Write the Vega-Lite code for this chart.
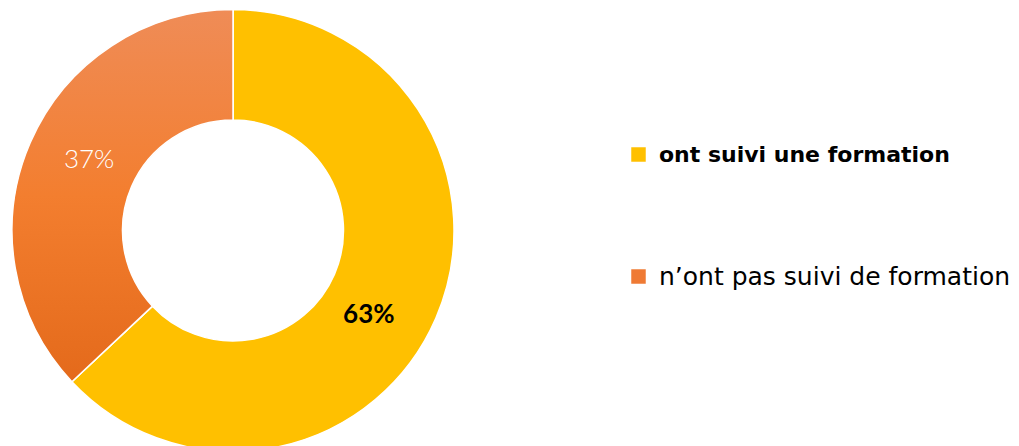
{
  "$schema": "https://vega.github.io/schema/vega-lite/v6.json",
  "width": 1019,
  "height": 446,
  "autosize": {"type": "fit", "contains": "padding"},
  "padding": 0,
  "background": "white",
  "view": {"stroke": null},
  "data": {
    "values": [
      {"category": "ont suivi une formation", "value": 63, "label": "63%", "order": 1},
      {"category": "n’ont pas suivi de formation", "value": 37, "label": "37%", "order": 2}
    ]
  },
  "encoding": {
    "theta": {"field": "value", "type": "quantitative", "stack": true},
    "order": {"field": "order", "type": "quantitative"}
  },
  "layer": [
    {
      "mark": {"type": "arc", "x": 233, "y": 230.5, "radius": 221, "radius2": 110.5, "stroke": "white", "strokeWidth": 1.5},
      "encoding": {
        "color": {
          "field": "category",
          "type": "nominal",
          "scale": {"domain": ["ont suivi une formation", "n’ont pas suivi de formation"], "range": ["#FFC000", "#EF7A34"]},
          "legend": {
            "title": null,
            "orient": "none",
            "legendX": 626,
            "legendY": 142,
            "padding": 0,
            "symbolType": "square",
            "symbolSize": 210,
            "symbolStrokeWidth": 0,
            "symbolOpacity": 1,
            "labelFont": "DejaVu Sans",
            "labelFontSize": {"expr": "datum.label == 'ont suivi une formation' ? 22 : 25"},
            "labelFontWeight": {"expr": "datum.label == 'ont suivi une formation' ? 'bold' : 'normal'"},
            "labelColor": "#000000",
            "labelOffset": 8,
            "labelLimit": 500,
            "rowPadding": 98
          }
        }
      }
    },
    {
      "mark": {
        "type": "arc", "x": 233, "y": 230.5, "radius": 221, "radius2": 110.5, "stroke": "white", "strokeWidth": 1.5,
        "fill": {
          "gradient": "linear", "x1": 0, "y1": 0, "x2": 0, "y2": 1,
          "stops": [
            {"offset": 0, "color": "#EF8C57"},
            {"offset": 0.5, "color": "#F37E2F"},
            {"offset": 1, "color": "#E46A1B"}
          ]
        }
      },
      "encoding": {
        "fillOpacity": {"condition": {"test": "datum.order == 2", "value": 1}, "value": 0},
        "strokeOpacity": {"condition": {"test": "datum.order == 2", "value": 1}, "value": 0}
      }
    },
    {
      "mark": {
        "type": "text", "x": 233, "y": 230.5, "radius": 160, "font": "Lato", "fontSize": 26,
        "fontWeight": {"expr": "datum.order == 1 ? 'bold' : 300"},
        "dx": {"expr": "datum.order == 1 ? -11 : 3"},
        "dy": {"expr": "datum.order == 1 ? 21 : -7"},
        "align": "center", "baseline": "middle"
      },
      "encoding": {
        "text": {"field": "label", "type": "nominal"},
        "color": {"condition": {"test": "datum.order == 2", "value": "#FFFFFF"}, "value": "#000000"}
      }
    }
  ]
}
